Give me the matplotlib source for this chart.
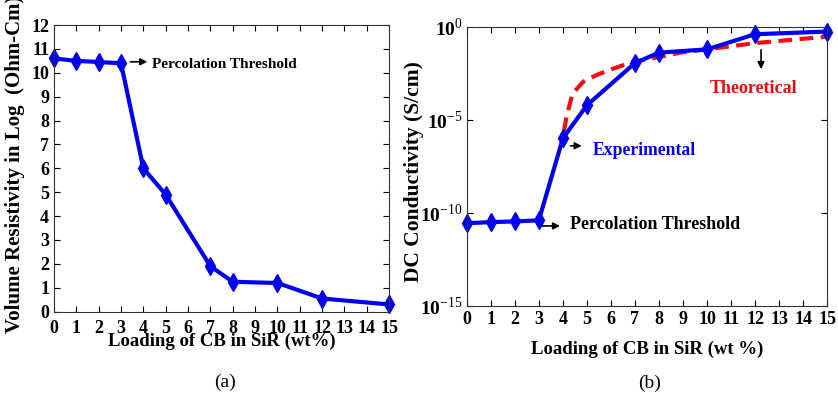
import matplotlib
matplotlib.use("Agg")
import matplotlib.pyplot as plt

plt.rcParams['font.family'] = ['Liberation Serif', 'DejaVu Serif']
plt.rcParams['mathtext.fontset'] = 'custom'
plt.rcParams['mathtext.rm'] = 'Liberation Serif'
plt.rcParams['mathtext.bf'] = 'Liberation Serif:bold'

# (a) volume resistivity
cb_load = [0, 1, 2, 3, 4, 5, 7, 8, 10, 12, 15]
log_resist = [10.6, 10.5, 10.45, 10.4, 6.0, 4.9, 1.9, 1.25, 1.2, 0.55, 0.3]

# (b) DC conductivity
cond_exp = [2.8e-11, 3.2e-11, 3.5e-11, 4.0e-11, 1.0e-6, 6.0e-5,
            1.1e-2, 4.0e-2, 6.0e-2, 0.39, 0.54]
theo_load = [4.05, 4.15, 4.4, 4.85, 5.4, 6.1, 6.9, 7.9, 8.9, 10, 12, 15]
cond_theo = [2.5e-6, 1.4e-5, 2.5e-4, 1.1e-3, 2.5e-3, 5.6e-3,
             1.26e-2, 2.2e-2, 4.0e-2, 6.0e-2, 0.13, 0.29]

xticks = list(range(16))
blue = '#0000ee'

fig = plt.figure(figsize=(8.38, 3.97), dpi=100)
ax1 = fig.add_axes([0.0644, 0.215, 0.400, 0.722])
ax2 = fig.add_axes([0.557, 0.229, 0.430, 0.704])

bold = dict(fontweight='bold')

for ax in (ax1, ax2):
    ax.tick_params(direction='in', top=True, right=True, labelsize=13,
                   length=4, width=0.8)
    for s in ax.spines.values():
        s.set_linewidth(0.8)
        s.set_color('#333333')
    ax.set_xlim(0, 15)
    ax.set_xticks(xticks)
    ax.set_xticklabels([str(t) for t in xticks], fontweight='bold')

# ---- (a)
ax1.plot(cb_load, log_resist, '-d', color=blue, lw=3, ms=9, clip_on=False)
ax1.set_ylim(0, 12)
ax1.set_yticks(range(13))
ax1.set_yticklabels([str(t) for t in range(13)], fontweight='bold')
ax1.tick_params(axis='x', pad=6)
ax1.set_xlabel('Loading of CB in SiR (wt%)', fontsize=13.5, labelpad=-3, **bold)
fig.text(5 / 838, 1 - 333 / 397, 'Volume Resistivity in Log  (Ohm-Cm)',
         rotation=90, ha='left', va='bottom', fontsize=15, **bold)
ax1.annotate('', xy=(4.3, 10.46), xytext=(3.3, 10.46),
             arrowprops=dict(arrowstyle='-|>', color='black', lw=1.2))
ax1.text(4.37, 10.35, 'Percolation Threshold', fontsize=11, va='center', **bold)

# ---- (b)
ax2.semilogy(theo_load, cond_theo, '--', color='#ee1111', lw=3, dashes=(3.3, 1.8))
ax2.semilogy(cb_load, cond_exp, '-d', color=blue, lw=3, ms=9, clip_on=False)
ax2.set_ylim(1e-15, 1)
ax2.set_yticks([1e-15, 1e-10, 1e-5, 1])
ax2.minorticks_off()
ax2.set_yticklabels([r'$\mathbf{10}^{\mathrm{-15}}$', r'$\mathbf{10}^{\mathrm{-10}}$',
                     r'$\mathbf{10}^{\mathrm{-5}}$', r'$\mathbf{10}^{\mathrm{0}}$'],
                    fontsize=14)
ax2.tick_params(axis='y', pad=3)
ax2.set_xlabel('Loading of CB in SiR (wt %)', fontsize=13.5, labelpad=9, **bold)
fig.text(414 / 838, 1 - 172 / 397, 'DC Conductivity (S/cm)', rotation=90,
         ha='center', va='center', fontsize=15.5, **bold)

ax2.annotate('', xy=(4.9, 4e-7), xytext=(4.2, 4e-7),
             arrowprops=dict(arrowstyle='-|>', color='black', lw=1.2))
ax2.text(5.25, 2.3e-7, 'Experimental', color=blue, fontsize=12.7,
         va='center', **bold)
ax2.annotate('', xy=(12.25, 3.7e-3), xytext=(12.25, 8e-2),
             arrowprops=dict(arrowstyle='-|>', color='black', lw=1.2))
ax2.text(10.1, 5e-4, 'Theoretical', color='#dd1111', fontsize=13,
         va='center', **bold)
ax2.annotate('', xy=(4.0, 2e-11), xytext=(3.03, 2e-11),
             arrowprops=dict(arrowstyle='-|>', color='black', lw=1.2))
ax2.text(4.28, 2.5e-11, 'Percolation Threshold', fontsize=13, va='center', **bold)

fig.text(225 / 838, 1 - 382 / 397, '(a)', fontsize=14, ha='center', va='center')
fig.text(650 / 838, 1 - 383 / 397, '(b)', fontsize=14, ha='center', va='center')

fig.savefig('out.png', dpi=100)
